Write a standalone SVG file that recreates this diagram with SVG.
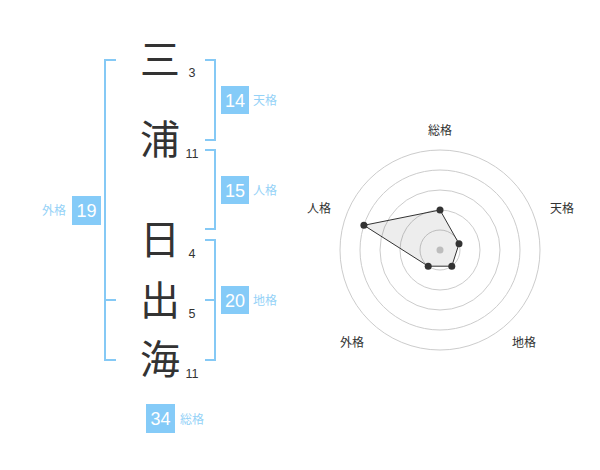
<svg xmlns="http://www.w3.org/2000/svg" width="600" height="470" viewBox="0 0 600 470">
<style>
.ch{font-family:"Noto Sans CJK JP","Noto Sans CJK SC",sans-serif;font-size:40px;fill:#333;text-anchor:middle}
.n{font-family:"Liberation Sans",Arial,sans-serif;font-size:12.5px;fill:#333;text-anchor:middle}
.br{fill:none;stroke:#85c9f5;stroke-width:2}
.bx{fill:#85cbf8}
.bt{font-family:"Liberation Sans",Arial,sans-serif;font-size:18px;fill:#fff;text-anchor:middle}
.lb{font-family:"Noto Sans CJK JP","Noto Sans CJK SC",sans-serif;font-size:12px;fill:#95d2f7}
.rl{font-family:"Noto Sans CJK JP","Noto Sans CJK SC",sans-serif;font-size:12px;fill:#333;text-anchor:middle}
.ring{fill:none;stroke:#ccc;stroke-width:1}
.pt{fill:#333}
</style>
<rect width="600" height="470" fill="#fff"/>
<g id="connectors">
<path class="br" d="M116,60 H105 V360 H116 M105,300 H116"/>
<path class="br" d="M205,60 H215 V140 H205"/>
<path class="br" d="M205,150 H215 V229 H205"/>
<path class="br" d="M205,240 H215 V360 H205 M205,300 H215"/>
</g>
<g id="char1"><text class="ch" x="160" y="74">三</text><text class="n" x="192" y="77">3</text></g>
<g id="char2"><text class="ch" x="160" y="154">浦</text><text class="n" x="192" y="158">11</text></g>
<g id="char3"><text class="ch" x="160" y="254">日</text><text class="n" x="192" y="258">4</text></g>
<g id="char4"><text class="ch" x="160" y="315">出</text><text class="n" x="192" y="318">5</text></g>
<g id="char5"><text class="ch" x="160" y="374">海</text><text class="n" x="192" y="378">11</text></g>
<g id="tenkaku"><rect class="bx" x="221" y="86" width="28" height="28"/><text class="bt" x="235" y="106.5">14</text><text class="lb" x="253" y="104.5">天格</text></g>
<g id="jinkaku"><rect class="bx" x="221" y="176" width="28" height="28"/><text class="bt" x="235" y="196.5">15</text><text class="lb" x="253" y="194.5">人格</text></g>
<g id="chikaku"><rect class="bx" x="221" y="286" width="28" height="28"/><text class="bt" x="235" y="306.5">20</text><text class="lb" x="253" y="304.5">地格</text></g>
<g id="gaikaku"><rect class="bx" x="72" y="196" width="29" height="29"/><text class="bt" x="86.5" y="217">19</text><text class="lb" x="66" y="215" text-anchor="end">外格</text></g>
<g id="soukaku"><rect class="bx" x="146" y="404" width="29" height="29"/><text class="bt" x="160.5" y="425">34</text><text class="lb" x="180" y="424">総格</text></g>
<g id="radar">
<circle class="ring" cx="440" cy="250" r="20"/>
<circle class="ring" cx="440" cy="250" r="40"/>
<circle class="ring" cx="440" cy="250" r="60"/>
<circle class="ring" cx="440" cy="250" r="80"/>
<circle class="ring" cx="440" cy="250" r="100"/>
<circle cx="440" cy="250" r="3.5" fill="#ccc"/>
<polygon points="440,210 459,243.8 451.8,266.2 428.2,266.2 363.9,225.3" fill="#000" fill-opacity="0.07" stroke="#333" stroke-width="1"/>
<circle class="pt" cx="440" cy="210" r="3.5"/>
<circle class="pt" cx="459" cy="243.8" r="3.5"/>
<circle class="pt" cx="451.8" cy="266.2" r="3.5"/>
<circle class="pt" cx="428.2" cy="266.2" r="3.5"/>
<circle class="pt" cx="363.9" cy="225.3" r="3.5"/>
<text class="rl" x="440" y="134.5">総格</text>
<text class="rl" x="562" y="212.5">天格</text>
<text class="rl" x="524" y="346.5">地格</text>
<text class="rl" x="352" y="346.5">外格</text>
<text class="rl" x="319" y="212.5">人格</text>
</g>
</svg>
